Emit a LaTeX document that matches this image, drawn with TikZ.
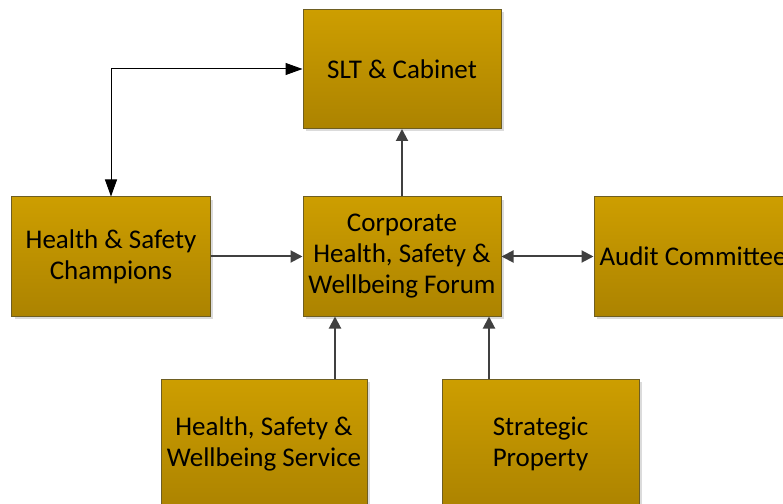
\documentclass[tikz,border=0pt]{standalone}
\usepackage{fontspec}
\setmainfont{Carlito}
\usetikzlibrary{arrows.meta,shadows}
\definecolor{goldtop}{HTML}{CD9E00}
\definecolor{goldbot}{HTML}{AC8300}
\definecolor{boxedge}{HTML}{6E5E22}
\definecolor{linkgray}{HTML}{404040}
\tikzset{
  x=1bp, y=-1bp,
  unit/.style={draw=boxedge, line width=1bp, top color=goldtop, bottom color=goldbot,
    minimum width=198bp, minimum height=119bp, inner sep=0pt, align=center,
    font=\fontsize{27bp}{31bp}\selectfont,
    drop shadow={shadow xshift=3bp, shadow yshift=-3bp, fill=black!14, opacity=1}},
  flow/.style={draw=linkgray, line width=2bp, -{Triangle[length=12bp,width=12bp]}},
  flowboth/.style={flow, {Triangle[length=12bp,width=12bp]}-{Triangle[length=12bp,width=12bp]}},
  report/.style={draw=black, line width=1bp, {Triangle[length=17bp,width=12bp]}-{Triangle[length=17bp,width=12bp]}}
}
\begin{document}
\begin{tikzpicture}
\useasboundingbox (0,0) rectangle (783,504);
\node[unit] (slt) at (402,69) {SLT \& Cabinet};
\node[unit] (champ) at (111,256.5) {Health \& Safety\\Champions};
\node[unit] (forum) at (402,256.5) {Corporate\\Health, Safety \&\\Wellbeing Forum};
\node[unit] (audit) at (693,256.5) {Audit Committee};
\node[unit, minimum width=206bp, minimum height=130bp] (hsws) at (264,444) {Health, Safety \&\\Wellbeing Service};
\node[unit, minimum width=197bp, minimum height=130bp] (prop) at (540.5,444) {Strategic\\Property};

\draw[flow] (champ.east) -- (forum.west);
\draw[flow] (forum.north) -- (slt.south);
\draw[flowboth] (forum.east) -- (audit.west);
\draw[flow] (hsws.north -| 335,0) -- (forum.south -| 335,0);
\draw[flow] (prop.north -| 489,0) -- (forum.south -| 489,0);
\draw[report] (slt.west) -| (champ.north);
\end{tikzpicture}
\end{document}
